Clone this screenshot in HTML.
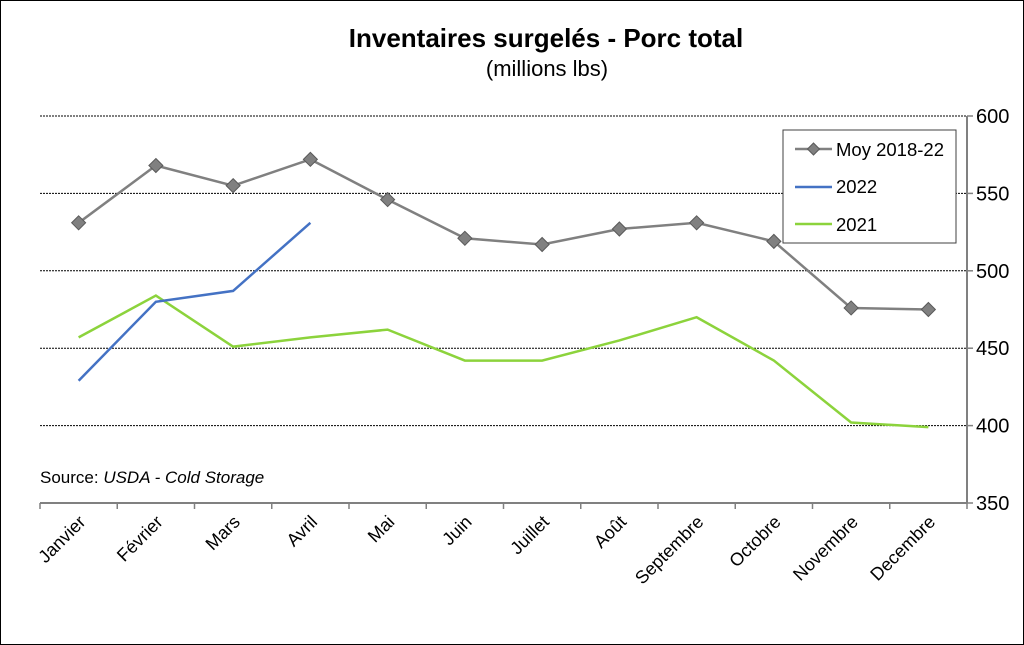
<!DOCTYPE html>
<html><head><meta charset="utf-8"><style>
body{margin:0;background:#fff;}
svg{display:block;font-family:"Liberation Sans",Arial,sans-serif;}
</style></head><body>
<svg id="c" width="1024" height="645" xmlns="http://www.w3.org/2000/svg">
<rect x="0.5" y="0.5" width="1023" height="644" fill="#fff" stroke="#000"/>
<text x="546" y="47" text-anchor="middle" font-size="26" font-weight="bold">Inventaires surgelés - Porc total</text>
<text x="547" y="76" text-anchor="middle" font-size="22">(millions lbs)</text>
<g id="grid"></g><g id="series"></g>
<text x="40" y="483" font-size="17">Source: <tspan font-style="italic">USDA - Cold Storage</tspan></text>
<g>
<rect x="783" y="130" width="173" height="113" fill="#fff" stroke="#404040"/>
<g><line x1="795" x2="832" y1="149" y2="149" stroke="#808080" stroke-width="2.5"/><path d="M813.5 143 L819.5 149 L813.5 155 L807.5 149Z" fill="#808080" stroke="#595959"/><text x="836" y="156" font-size="18.5">Moy 2018-22</text></g>
<g><line x1="795" x2="832" y1="187" y2="187" stroke="#4472C4" stroke-width="2.5"/><text x="836" y="193" font-size="18.5">2022</text></g>
<g><line x1="795" x2="832" y1="224" y2="224" stroke="#8CD33C" stroke-width="2.5"/><text x="836" y="231" font-size="18.5">2021</text></g>
</g>
</svg>
<script>
const categories=["Janvier","Février","Mars","Avril","Mai","Juin","Juillet","Août","Septembre","Octobre","Novembre","Decembre"];
const moy=[531,568,555,572,546,521,517,527,531,519,476,475];
const y2022=[429,480,487,531];
const y2021=[457,484,451,457,462,442,442,455,470,442,402,399];
const yTicks=[350,400,450,500,550,600];
const NS="http://www.w3.org/2000/svg";
const L=40,R=967,T=116,B=503,yMin=350,yMax=600;
const xS=i=>L+(R-L)/categories.length*(i+0.5);
const yS=v=>B-(v-yMin)/(yMax-yMin)*(B-T);
function mk(tag,attrs,parent){const e=document.createElementNS(NS,tag);for(const k in attrs)e.setAttribute(k,attrs[k]);parent.appendChild(e);return e;}
const g=document.getElementById('grid'),s=document.getElementById('series');
yTicks.forEach(v=>{
  if(v>yMin){const l=mk('line',{x1:L,x2:R,y1:yS(v),y2:yS(v),stroke:'#000','stroke-width':1,'stroke-dasharray':'2,1'},g);
  
  }
  mk('line',{x1:R,x2:R+6,y1:yS(v),y2:yS(v),stroke:'#808080','stroke-width':1.5},g);
  const t=mk('text',{x:R+9,y:yS(v)+7,'font-size':20},g);t.textContent=v;
  
  
});
const ax=mk('line',{x1:R,x2:R,y1:T,y2:B,stroke:'#808080','stroke-width':2},g);


const bx=mk('line',{x1:L,x2:R,y1:B,y2:B,stroke:'#808080','stroke-width':2},g);


categories.forEach((c,i)=>{
  const x=L+(R-L)/categories.length*i;
  mk('line',{x1:x,x2:x,y1:B,y2:B+6,stroke:'#808080','stroke-width':1.5},g);
  const t=mk('text',{x:xS(i)+8,y:B+20,'font-size':18,'text-anchor':'end',transform:`rotate(-45 ${xS(i)+8} ${B+20})`},g);
  t.textContent=c;
  
  
});
mk('line',{x1:R,x2:R,y1:B,y2:B+6,stroke:'#808080','stroke-width':1.5},g);
function line(arr,color,name){
  const p=mk('polyline',{points:arr.map((v,i)=>xS(i)+','+yS(v)).join(' '),fill:'none',stroke:color,'stroke-width':2.5},s);
  
  
}
line(y2021,'#8CD33C','series-2021');
line(y2022,'#4472C4','series-2022');
line(moy,'#808080','series-moy');
moy.forEach((v,i)=>{
  const x=xS(i),y=yS(v);
  const m=mk('path',{d:`M${x} ${y-7}L${x+7} ${y}L${x} ${y+7}L${x-7} ${y}Z`,fill:'#808080',stroke:'#595959','stroke-width':1},s);
  
  
});
</script>
</body></html>
